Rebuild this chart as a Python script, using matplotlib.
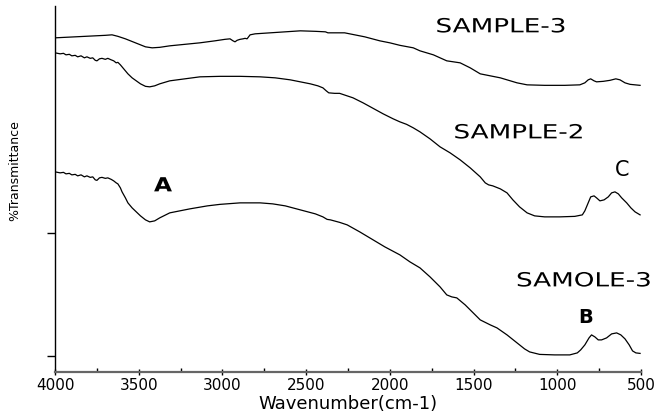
import matplotlib
matplotlib.use("Agg")
import matplotlib.pyplot as plt
from matplotlib.patheffects import AbstractPathEffect
from matplotlib.transforms import Affine2D
from matplotlib.ticker import MultipleLocator

# FTIR spectra, stacked with an offset (arbitrary transmittance units)
wn_s3 = [4000, 3940, 3880, 3820, 3760, 3700, 3660, 3625, 3580, 3520,
         3460, 3420, 3375, 3315, 3225, 3135, 3045, 2985, 2955, 2937,
         2925, 2913, 2895, 2877, 2865, 2853, 2835, 2805, 2715, 2625,
         2535, 2445, 2385, 2370, 2330, 2270, 2210, 2150, 2060, 2000,
         1940, 1860, 1820, 1740, 1660, 1580, 1520, 1460, 1400, 1340,
         1240, 1180, 1075, 955, 865, 835, 815, 800, 780, 765,
         725, 685, 650, 625, 595, 565, 535, 505]
t_s3 = [334, 334.5, 335, 335.5, 336, 336.5, 337, 335.5, 333, 329,
        325, 324, 324.5, 326, 327.5, 329, 331, 332.5, 333, 331,
        330, 331.5, 332.5, 333, 333.5, 333, 337, 338, 339, 340,
        341, 340.5, 340, 339, 339, 339, 337, 335, 331, 329,
        326.5, 324, 321, 317, 311, 309, 304, 298, 296, 294,
        289, 287, 286.5, 286.5, 287, 289, 292, 293, 291, 290,
        290.5, 291.5, 293, 292, 289, 287.5, 287, 286.5]

wn_s2 = [4000, 3970, 3950, 3935, 3915, 3900, 3880, 3865, 3845, 3825,
         3810, 3790, 3775, 3760, 3750, 3735, 3720, 3700, 3685, 3665,
         3650, 3635, 3625, 3610, 3600, 3580, 3565, 3540, 3515, 3490,
         3460, 3435, 3405, 3375, 3315, 3225, 3135, 3015, 2895, 2775,
         2685, 2595, 2535, 2475, 2430, 2400, 2380, 2365, 2330, 2300,
         2220, 2160, 2100, 2040, 1980, 1940, 1900, 1860, 1820, 1760,
         1700, 1640, 1580, 1520, 1460, 1430, 1410, 1385, 1340, 1300,
         1265, 1225, 1180, 1135, 1075, 985, 895, 850, 835, 815,
         800, 780, 765, 745, 720, 695, 675, 655, 635, 615,
         585, 560, 535, 505]
t_s2 = [319, 318, 318.5, 317, 317.5, 316, 316.5, 315, 316, 314,
        315, 313.5, 314, 311.5, 311, 313, 313.5, 312.5, 313.5, 312,
        311, 309, 309.5, 307, 305, 301, 298, 294, 291, 288,
        285.5, 285, 286, 288, 291, 293, 295, 295.5, 295.5, 295,
        294, 292, 290, 288, 286, 284, 281, 279, 278.5, 278.5,
        274, 269, 263.5, 258, 253, 250, 247.5, 244, 240, 233,
        225, 219, 212, 204, 195, 189, 187, 186, 183, 179,
        172, 165, 159, 156, 155, 155, 155.5, 157, 161, 169,
        175, 176, 174, 171, 172, 175, 179, 180, 178, 174,
        169, 164, 160, 157]

wn_s1 = [4000, 3970, 3950, 3935, 3915, 3900, 3880, 3865, 3845, 3825,
         3810, 3790, 3775, 3760, 3750, 3735, 3720, 3700, 3685, 3665,
         3650, 3635, 3625, 3610, 3600, 3580, 3565, 3540, 3515, 3490,
         3460, 3435, 3405, 3375, 3315, 3255, 3195, 3090, 3015, 2895,
         2775, 2700, 2625, 2535, 2445, 2400, 2375, 2355, 2300, 2255,
         2180, 2100, 2030, 1940, 1880, 1820, 1760, 1700, 1660, 1630,
         1600, 1550, 1460, 1400, 1360, 1300, 1240, 1195, 1165, 1105,
         1015, 925, 880, 860, 835, 810, 795, 775, 755, 735,
         705, 675, 645, 620, 595, 570, 550, 530, 505]
t_s1 = [200, 199, 199.5, 198, 198.5, 197, 197.5, 196, 197, 195,
        196, 194.5, 195, 192, 191.5, 194, 194.5, 193.5, 194, 192.5,
        191, 189, 188, 184, 180, 174, 169, 164, 160, 156,
        152, 150, 151, 154, 159, 161, 163, 166, 167.5, 169,
        169, 168, 166, 162, 158, 155, 152.5, 152, 149.5, 147,
        140, 132, 125, 117, 110, 104, 95, 85, 77, 75,
        74, 67, 52, 47, 44, 37, 29, 23, 20, 17.5,
        17, 17, 19, 22, 27, 34, 37, 35, 32, 32,
        34, 38, 39, 37, 33, 27, 21, 19, 18.5]

x_major = [4000, 3500, 3000, 2500, 2000, 1500, 1000, 500]
y_marks = [16, 139]


class Widen(AbstractPathEffect):
    """Stretch text glyphs horizontally about their centre."""
    def __init__(self, sx):
        super().__init__()
        self.sx = sx

    def draw_path(self, renderer, gc, tpath, affine, rgbFace=None):
        box = tpath.get_extents(affine)
        cx = (box.x0 + box.x1) / 2
        wide = affine + Affine2D().translate(-cx, 0).scale(self.sx, 1).translate(cx, 0)
        renderer.draw_path(gc, tpath, wide, rgbFace)


fig = plt.figure(figsize=(6.56, 4.16), dpi=100)
ax = fig.add_axes([0.084, 0.106, 0.893, 0.88])

for wn, t in [(wn_s3, t_s3), (wn_s2, t_s2), (wn_s1, t_s1)]:
    ax.plot(wn, t, color="black", lw=0.9)

ax.set_xlim(4000, 500)
ax.set_ylim(0, 366)
ax.set_xticks(x_major)
ax.xaxis.set_minor_locator(MultipleLocator(250))
ax.set_yticks(y_marks)
ax.set_yticklabels([])

ax.spines["top"].set_visible(False)
ax.spines["right"].set_visible(False)
ax.spines["left"].set_linewidth(1.0)
ax.spines["bottom"].set_linewidth(1.6)
ax.spines["bottom"].set_color("#666666")

ax.tick_params(axis="x", which="major", direction="inout", length=5, width=1,
               labelsize=11, pad=2)
ax.tick_params(axis="x", which="minor", direction="in", length=3, width=1)
ax.tick_params(axis="y", direction="out", length=6, width=1)

ax.set_xlabel("Wavenumber(cm-1)", fontsize=13, labelpad=1)
ax.set_ylabel("%Transmittance", fontsize=9, labelpad=20)
ax.yaxis.set_label_coords(-0.058, 0.55)

wide = [Widen(1.35)]
ax.text(1336, 345, "SAMPLE-3", fontsize=14, ha="center", va="center", path_effects=wide)
ax.text(1229, 239, "SAMPLE-2", fontsize=14, ha="center", va="center", path_effects=wide)
ax.text(840, 91, "SAMOLE-3", fontsize=14, ha="center", va="center", path_effects=wide)
ax.text(3355, 186, "A", fontsize=14, fontweight="bold", ha="center", va="center",
        path_effects=[Widen(1.2)])
ax.text(828, 54, "B", fontsize=14, fontweight="bold", ha="center", va="center")
ax.text(613, 202, "C", fontsize=15, ha="center", va="center")

fig.savefig("out.png", dpi=100)
